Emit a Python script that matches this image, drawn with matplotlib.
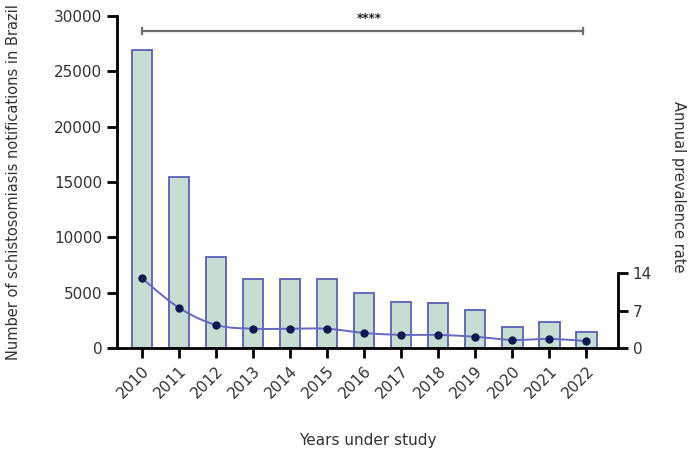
import numpy as np
import matplotlib
matplotlib.use("Agg")
import matplotlib.pyplot as plt

years = ["2010", "2011", "2012", "2013", "2014", "2015", "2016",
         "2017", "2018", "2019", "2020", "2021", "2022"]
notifications = [26900, 15450, 8220, 6250, 6280, 6230, 4970,
                 4150, 4050, 3430, 1900, 2350, 1450]
prevalence = [13.0, 7.5, 4.3, 3.6, 3.6, 3.6, 2.8, 2.45, 2.45, 2.1, 1.5, 1.7, 1.3]
left_ticks = [0, 5000, 10000, 15000, 20000, 25000, 30000]
right_ticks = [0, 7, 14]

TXT = "#333333"
fig = plt.figure(figsize=(7.0, 4.53), dpi=100)
ax = fig.add_axes([117/700, 1 - 348/453, (618-117)/700, (348-16)/453])

x = np.arange(len(years))
ax.bar(x, notifications, width=0.56, color="#c6ded2", edgecolor="#5a5fb8",
       linewidth=1.3, zorder=2)
ax.set_xlim(-0.676, 12.86)
ax.set_ylim(0, 30000)
ax.set_yticks(left_ticks)
ax.set_xticks(x)
ax.set_xticklabels(years, rotation=45, ha="right", rotation_mode="anchor")
for s in ["top", "right"]:
    ax.spines[s].set_visible(False)
for s in ["left", "bottom"]:
    ax.spines[s].set_linewidth(2)
ax.tick_params(axis="both", width=2, length=7, labelsize=11, colors="black",
               labelcolor=TXT)
ax.tick_params(axis="x", pad=4)
ax.set_ylabel("Number of schistosomiasis notifications in Brazil", fontsize=10.5,
              color=TXT, labelpad=24)
ax.set_xlabel("Years under study", fontsize=11, color=TXT, labelpad=23)

ax2 = ax.twinx()
ax2.set_position(ax.get_position())
ax2.set_ylim(0, 62)
ax2.set_yticks(right_ticks)
for s in ["top", "left", "bottom"]:
    ax2.spines[s].set_visible(False)
ax2.spines["right"].set_linewidth(2)
ax2.spines["right"].set_bounds(0, 14)
ax2.tick_params(axis="y", width=2, length=7, labelsize=11, labelcolor=TXT)

# smooth (Catmull-Rom) rendering of the prevalence line
p = np.array(prevalence, dtype=float)
xs, ys = [], []
pts_x = np.concatenate([[x[0]], x, [x[-1]]]).astype(float)
pts_y = np.concatenate([[p[0]], p, [p[-1]]])
t = np.linspace(0, 1, 20)
for i in range(1, len(pts_x) - 2):
    P0, P1, P2, P3 = [np.array([pts_x[j], pts_y[j]]) for j in (i-1, i, i+1, i+2)]
    for tt in t:
        pt = 0.5 * ((2*P1) + (-P0 + P2)*tt + (2*P0 - 5*P1 + 4*P2 - P3)*tt**2
                    + (-P0 + 3*P1 - 3*P2 + P3)*tt**3)
        xs.append(pt[0]); ys.append(pt[1])
ax2.plot(xs, ys, color="#6468c2", linewidth=1.4, zorder=3)
ax2.plot(x, p, linestyle="none", marker="o", markersize=5,
         color="#101a50", zorder=4)
ax2.set_ylabel("Annual prevalence rate", fontsize=10.5, color=TXT,
               rotation=-90)
ax2.yaxis.set_label_coords(1.135, 0.485)

# significance bracket
by = 28650
ax.plot([0, 11.92], [by, by], color="#6f6f6f", linewidth=1.6, zorder=5,
        clip_on=False)
for ex in (0, 11.92):
    ax.plot([ex, ex], [by - 300, by + 300], color="#6f6f6f", linewidth=1.6,
            clip_on=False)
ax.text(6.15, by + 500, "****", ha="center", va="bottom", fontsize=8.5,
        fontweight="bold", color="#222222")

fig.savefig("out.png", dpi=100)
